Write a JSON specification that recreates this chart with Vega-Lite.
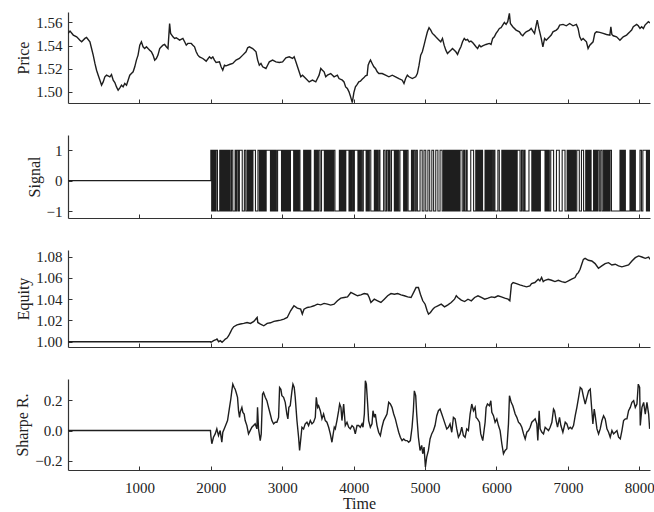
{
"$schema":"https://vega.github.io/schema/vega-lite/v6.json",
"background":"white",
"padding":{"left":14,"top":12,"right":4,"bottom":2},
"spacing":32,
"bounds":"flush",
"config":{"view":{"stroke":null},"font":"Liberation Serif",
"axis":{"labelFont":"Liberation Serif","titleFont":"Liberation Serif","labelFontSize":15,"titleFontSize":16,"titleFontWeight":"normal","labelColor":"#222","titleColor":"#222","domainColor":"#333","tickColor":"#333","grid":false,"tickSize":-4,"domainWidth":1.2}},
"datasets":{
"price":[{"t":0,"p":1.5505},{"t":28,"p":1.5525},{"t":74,"p":1.5491},{"t":121,"p":1.5476},{"t":167,"p":1.5447},{"t":191,"p":1.5433},{"t":237,"p":1.5462},{"t":260,"p":1.547},{"t":307,"p":1.5433},{"t":330,"p":1.5375},{"t":353,"p":1.5318},{"t":377,"p":1.5246},{"t":400,"p":1.5188},{"t":423,"p":1.5145},{"t":447,"p":1.5102},{"t":470,"p":1.5059},{"t":493,"p":1.5087},{"t":516,"p":1.5131},{"t":540,"p":1.5145},{"t":586,"p":1.5131},{"t":609,"p":1.5151},{"t":633,"p":1.5102},{"t":656,"p":1.5082},{"t":679,"p":1.5044},{"t":702,"p":1.5015},{"t":726,"p":1.5036},{"t":749,"p":1.5059},{"t":772,"p":1.5044},{"t":795,"p":1.5073},{"t":819,"p":1.5059},{"t":842,"p":1.5102},{"t":865,"p":1.5145},{"t":888,"p":1.5159},{"t":912,"p":1.5174},{"t":935,"p":1.5217},{"t":958,"p":1.5275},{"t":981,"p":1.5318},{"t":1005,"p":1.5404},{"t":1028,"p":1.5433},{"t":1051,"p":1.539},{"t":1074,"p":1.5375},{"t":1098,"p":1.539},{"t":1121,"p":1.5375},{"t":1144,"p":1.5361},{"t":1167,"p":1.5347},{"t":1191,"p":1.5318},{"t":1214,"p":1.5275},{"t":1237,"p":1.5289},{"t":1260,"p":1.5318},{"t":1284,"p":1.5375},{"t":1307,"p":1.539},{"t":1330,"p":1.5404},{"t":1353,"p":1.541},{"t":1377,"p":1.539},{"t":1400,"p":1.5375},{"t":1423,"p":1.5591},{"t":1437,"p":1.5505},{"t":1470,"p":1.5476},{"t":1493,"p":1.5462},{"t":1516,"p":1.5468},{"t":1563,"p":1.5447},{"t":1609,"p":1.5462},{"t":1633,"p":1.5433},{"t":1656,"p":1.5404},{"t":1679,"p":1.5419},{"t":1726,"p":1.5419},{"t":1749,"p":1.5404},{"t":1772,"p":1.539},{"t":1795,"p":1.5347},{"t":1819,"p":1.5318},{"t":1842,"p":1.5303},{"t":1888,"p":1.5289},{"t":1935,"p":1.5266},{"t":1981,"p":1.5303},{"t":2005,"p":1.5289},{"t":2028,"p":1.5303},{"t":2051,"p":1.5275},{"t":2074,"p":1.5254},{"t":2121,"p":1.526},{"t":2144,"p":1.5217},{"t":2167,"p":1.5188},{"t":2191,"p":1.5231},{"t":2214,"p":1.5226},{"t":2260,"p":1.5237},{"t":2307,"p":1.5246},{"t":2353,"p":1.5275},{"t":2400,"p":1.5289},{"t":2447,"p":1.5318},{"t":2493,"p":1.5347},{"t":2516,"p":1.5381},{"t":2540,"p":1.539},{"t":2586,"p":1.5375},{"t":2633,"p":1.5347},{"t":2656,"p":1.5275},{"t":2679,"p":1.5231},{"t":2702,"p":1.5246},{"t":2726,"p":1.5217},{"t":2772,"p":1.5203},{"t":2795,"p":1.5231},{"t":2819,"p":1.526},{"t":2865,"p":1.5275},{"t":2912,"p":1.526},{"t":2958,"p":1.5254},{"t":3005,"p":1.526},{"t":3051,"p":1.5295},{"t":3098,"p":1.5303},{"t":3144,"p":1.5289},{"t":3167,"p":1.5303},{"t":3191,"p":1.526},{"t":3214,"p":1.5217},{"t":3237,"p":1.5174},{"t":3260,"p":1.5131},{"t":3284,"p":1.5145},{"t":3330,"p":1.5116},{"t":3377,"p":1.5087},{"t":3423,"p":1.5102},{"t":3470,"p":1.5087},{"t":3493,"p":1.5116},{"t":3516,"p":1.5145},{"t":3540,"p":1.5203},{"t":3563,"p":1.5188},{"t":3586,"p":1.5174},{"t":3609,"p":1.5131},{"t":3633,"p":1.5145},{"t":3679,"p":1.5159},{"t":3726,"p":1.5131},{"t":3772,"p":1.5145},{"t":3795,"p":1.5116},{"t":3842,"p":1.5102},{"t":3865,"p":1.5087},{"t":3888,"p":1.5044},{"t":3912,"p":1.503},{"t":3935,"p":1.5001},{"t":3958,"p":1.4958},{"t":3981,"p":1.4908},{"t":4003,"p":1.4995},{"t":4025,"p":1.5044},{"t":4048,"p":1.5064},{"t":4072,"p":1.5087},{"t":4095,"p":1.5093},{"t":4119,"p":1.511},{"t":4142,"p":1.5122},{"t":4166,"p":1.5139},{"t":4189,"p":1.5145},{"t":4203,"p":1.5231},{"t":4222,"p":1.526},{"t":4236,"p":1.5275},{"t":4259,"p":1.5246},{"t":4283,"p":1.5217},{"t":4306,"p":1.5203},{"t":4330,"p":1.5174},{"t":4353,"p":1.5159},{"t":4400,"p":1.5159},{"t":4447,"p":1.5145},{"t":4494,"p":1.5131},{"t":4541,"p":1.5145},{"t":4587,"p":1.5131},{"t":4634,"p":1.5116},{"t":4681,"p":1.5102},{"t":4705,"p":1.5073},{"t":4728,"p":1.5116},{"t":4752,"p":1.5145},{"t":4775,"p":1.5131},{"t":4822,"p":1.5116},{"t":4869,"p":1.5131},{"t":4892,"p":1.5159},{"t":4916,"p":1.5231},{"t":4939,"p":1.5318},{"t":4962,"p":1.5347},{"t":4986,"p":1.5404},{"t":5009,"p":1.5462},{"t":5033,"p":1.5519},{"t":5056,"p":1.5554},{"t":5080,"p":1.5534},{"t":5103,"p":1.5505},{"t":5127,"p":1.5491},{"t":5150,"p":1.5476},{"t":5173,"p":1.5462},{"t":5197,"p":1.5447},{"t":5220,"p":1.5433},{"t":5244,"p":1.5462},{"t":5267,"p":1.5404},{"t":5291,"p":1.5361},{"t":5314,"p":1.5332},{"t":5338,"p":1.5347},{"t":5361,"p":1.5361},{"t":5384,"p":1.5375},{"t":5431,"p":1.5347},{"t":5455,"p":1.5324},{"t":5478,"p":1.5361},{"t":5502,"p":1.539},{"t":5525,"p":1.5433},{"t":5549,"p":1.5462},{"t":5572,"p":1.5447},{"t":5595,"p":1.5453},{"t":5619,"p":1.5433},{"t":5642,"p":1.5439},{"t":5666,"p":1.5427},{"t":5689,"p":1.541},{"t":5713,"p":1.539},{"t":5736,"p":1.5375},{"t":5759,"p":1.5404},{"t":5783,"p":1.539},{"t":5806,"p":1.5398},{"t":5853,"p":1.541},{"t":5900,"p":1.5419},{"t":5924,"p":1.541},{"t":5947,"p":1.5462},{"t":5970,"p":1.5476},{"t":5994,"p":1.5505},{"t":6017,"p":1.5525},{"t":6041,"p":1.5548},{"t":6064,"p":1.5554},{"t":6087,"p":1.5577},{"t":6111,"p":1.56},{"t":6135,"p":1.5583},{"t":6158,"p":1.5606},{"t":6181,"p":1.5678},{"t":6195,"p":1.5591},{"t":6228,"p":1.5563},{"t":6275,"p":1.5534},{"t":6322,"p":1.5519},{"t":6346,"p":1.5496},{"t":6369,"p":1.5485},{"t":6392,"p":1.5505},{"t":6416,"p":1.5519},{"t":6463,"p":1.5534},{"t":6486,"p":1.5548},{"t":6510,"p":1.5525},{"t":6533,"p":1.5505},{"t":6556,"p":1.5577},{"t":6571,"p":1.562},{"t":6594,"p":1.5548},{"t":6627,"p":1.5462},{"t":6650,"p":1.539},{"t":6674,"p":1.5462},{"t":6697,"p":1.5447},{"t":6744,"p":1.5476},{"t":6767,"p":1.5491},{"t":6791,"p":1.5519},{"t":6838,"p":1.5534},{"t":6861,"p":1.5548},{"t":6885,"p":1.5577},{"t":6932,"p":1.5583},{"t":6978,"p":1.5571},{"t":7025,"p":1.5591},{"t":7072,"p":1.5571},{"t":7119,"p":1.5583},{"t":7143,"p":1.5548},{"t":7166,"p":1.5476},{"t":7189,"p":1.5447},{"t":7213,"p":1.5462},{"t":7260,"p":1.5433},{"t":7283,"p":1.5375},{"t":7307,"p":1.5404},{"t":7353,"p":1.5433},{"t":7377,"p":1.5505},{"t":7400,"p":1.5519},{"t":7447,"p":1.5514},{"t":7494,"p":1.5505},{"t":7541,"p":1.5496},{"t":7588,"p":1.5491},{"t":7602,"p":1.5563},{"t":7616,"p":1.5496},{"t":7635,"p":1.5485},{"t":7682,"p":1.5476},{"t":7729,"p":1.5447},{"t":7752,"p":1.5462},{"t":7775,"p":1.5476},{"t":7822,"p":1.5491},{"t":7869,"p":1.5519},{"t":7893,"p":1.5534},{"t":7916,"p":1.5563},{"t":7963,"p":1.5583},{"t":7986,"p":1.5571},{"t":8010,"p":1.5548},{"t":8033,"p":1.5563},{"t":8057,"p":1.5548},{"t":8080,"p":1.5577},{"t":8127,"p":1.5606},{"t":8150,"p":1.5596}],
"signal":[{"t":0,"v":0},{"t":2000,"v":1},{"t":2012,"v":-1},{"t":2025,"v":1},{"t":2036,"v":-1},{"t":2050,"v":1},{"t":2061,"v":-1},{"t":2074,"v":1},{"t":2093,"v":-1},{"t":2125,"v":1},{"t":2138,"v":-1},{"t":2150,"v":1},{"t":2164,"v":-1},{"t":2177,"v":1},{"t":2190,"v":-1},{"t":2204,"v":1},{"t":2216,"v":-1},{"t":2231,"v":1},{"t":2245,"v":-1},{"t":2259,"v":1},{"t":2272,"v":-1},{"t":2290,"v":1},{"t":2308,"v":-1},{"t":2340,"v":1},{"t":2352,"v":-1},{"t":2366,"v":1},{"t":2385,"v":-1},{"t":2400,"v":1},{"t":2440,"v":-1},{"t":2470,"v":1},{"t":2490,"v":-1},{"t":2510,"v":1},{"t":2522,"v":-1},{"t":2535,"v":1},{"t":2548,"v":-1},{"t":2560,"v":1},{"t":2575,"v":-1},{"t":2590,"v":1},{"t":2625,"v":-1},{"t":2660,"v":1},{"t":2680,"v":-1},{"t":2695,"v":1},{"t":2708,"v":-1},{"t":2720,"v":1},{"t":2733,"v":-1},{"t":2746,"v":1},{"t":2760,"v":-1},{"t":2775,"v":1},{"t":2835,"v":-1},{"t":2850,"v":1},{"t":2863,"v":-1},{"t":2877,"v":1},{"t":2890,"v":-1},{"t":2905,"v":1},{"t":2918,"v":-1},{"t":2935,"v":1},{"t":2990,"v":-1},{"t":3005,"v":1},{"t":3018,"v":-1},{"t":3030,"v":1},{"t":3045,"v":-1},{"t":3058,"v":1},{"t":3072,"v":-1},{"t":3086,"v":1},{"t":3100,"v":-1},{"t":3115,"v":1},{"t":3160,"v":-1},{"t":3175,"v":1},{"t":3190,"v":-1},{"t":3204,"v":1},{"t":3218,"v":-1},{"t":3232,"v":1},{"t":3248,"v":-1},{"t":3300,"v":1},{"t":3315,"v":-1},{"t":3328,"v":1},{"t":3342,"v":-1},{"t":3356,"v":1},{"t":3370,"v":-1},{"t":3385,"v":1},{"t":3400,"v":-1},{"t":3450,"v":1},{"t":3465,"v":-1},{"t":3480,"v":1},{"t":3494,"v":-1},{"t":3510,"v":1},{"t":3530,"v":-1},{"t":3550,"v":1},{"t":3590,"v":-1},{"t":3605,"v":1},{"t":3620,"v":-1},{"t":3634,"v":1},{"t":3648,"v":-1},{"t":3662,"v":1},{"t":3676,"v":-1},{"t":3690,"v":1},{"t":3705,"v":-1},{"t":3720,"v":1},{"t":3738,"v":-1},{"t":3800,"v":1},{"t":3815,"v":-1},{"t":3830,"v":1},{"t":3845,"v":-1},{"t":3860,"v":1},{"t":3875,"v":-1},{"t":3890,"v":1},{"t":3935,"v":-1},{"t":3950,"v":1},{"t":3965,"v":-1},{"t":3980,"v":1},{"t":3996,"v":-1},{"t":4010,"v":1},{"t":4060,"v":-1},{"t":4075,"v":1},{"t":4088,"v":-1},{"t":4102,"v":1},{"t":4118,"v":-1},{"t":4135,"v":1},{"t":4175,"v":-1},{"t":4190,"v":1},{"t":4205,"v":-1},{"t":4220,"v":1},{"t":4240,"v":-1},{"t":4290,"v":1},{"t":4305,"v":-1},{"t":4320,"v":1},{"t":4335,"v":-1},{"t":4352,"v":1},{"t":4368,"v":-1},{"t":4420,"v":1},{"t":4440,"v":-1},{"t":4460,"v":1},{"t":4480,"v":-1},{"t":4495,"v":1},{"t":4510,"v":-1},{"t":4530,"v":1},{"t":4570,"v":-1},{"t":4585,"v":1},{"t":4600,"v":-1},{"t":4614,"v":1},{"t":4630,"v":-1},{"t":4648,"v":1},{"t":4700,"v":-1},{"t":4715,"v":1},{"t":4730,"v":-1},{"t":4745,"v":1},{"t":4762,"v":-1},{"t":4810,"v":1},{"t":4825,"v":-1},{"t":4840,"v":1},{"t":4858,"v":-1},{"t":4875,"v":1},{"t":4892,"v":-1},{"t":4930,"v":1},{"t":4960,"v":-1},{"t":4985,"v":1},{"t":5010,"v":-1},{"t":5040,"v":1},{"t":5065,"v":-1},{"t":5095,"v":1},{"t":5120,"v":-1},{"t":5150,"v":1},{"t":5180,"v":-1},{"t":5210,"v":1},{"t":5240,"v":-1},{"t":5258,"v":1},{"t":5270,"v":-1},{"t":5282,"v":1},{"t":5294,"v":-1},{"t":5306,"v":1},{"t":5318,"v":-1},{"t":5330,"v":1},{"t":5342,"v":-1},{"t":5355,"v":1},{"t":5368,"v":-1},{"t":5380,"v":1},{"t":5393,"v":-1},{"t":5405,"v":1},{"t":5418,"v":-1},{"t":5430,"v":1},{"t":5445,"v":-1},{"t":5460,"v":1},{"t":5475,"v":-1},{"t":5490,"v":1},{"t":5520,"v":-1},{"t":5540,"v":1},{"t":5555,"v":-1},{"t":5575,"v":1},{"t":5590,"v":-1},{"t":5640,"v":1},{"t":5680,"v":-1},{"t":5710,"v":1},{"t":5725,"v":-1},{"t":5738,"v":1},{"t":5750,"v":-1},{"t":5763,"v":1},{"t":5776,"v":-1},{"t":5790,"v":1},{"t":5805,"v":-1},{"t":5840,"v":1},{"t":5855,"v":-1},{"t":5870,"v":1},{"t":5885,"v":-1},{"t":5900,"v":1},{"t":5915,"v":-1},{"t":5930,"v":1},{"t":5946,"v":-1},{"t":5962,"v":1},{"t":5978,"v":-1},{"t":6020,"v":1},{"t":6040,"v":-1},{"t":6075,"v":1},{"t":6088,"v":-1},{"t":6100,"v":1},{"t":6113,"v":-1},{"t":6126,"v":1},{"t":6139,"v":-1},{"t":6152,"v":1},{"t":6165,"v":-1},{"t":6178,"v":1},{"t":6191,"v":-1},{"t":6204,"v":1},{"t":6217,"v":-1},{"t":6230,"v":1},{"t":6245,"v":-1},{"t":6260,"v":1},{"t":6275,"v":-1},{"t":6290,"v":1},{"t":6330,"v":-1},{"t":6350,"v":1},{"t":6368,"v":-1},{"t":6385,"v":1},{"t":6400,"v":-1},{"t":6455,"v":1},{"t":6495,"v":-1},{"t":6508,"v":1},{"t":6520,"v":-1},{"t":6533,"v":1},{"t":6546,"v":-1},{"t":6560,"v":1},{"t":6573,"v":-1},{"t":6586,"v":1},{"t":6600,"v":-1},{"t":6615,"v":1},{"t":6680,"v":-1},{"t":6695,"v":1},{"t":6710,"v":-1},{"t":6725,"v":1},{"t":6740,"v":-1},{"t":6760,"v":1},{"t":6800,"v":-1},{"t":6840,"v":1},{"t":6880,"v":-1},{"t":6920,"v":1},{"t":6960,"v":-1},{"t":6990,"v":1},{"t":7003,"v":-1},{"t":7016,"v":1},{"t":7029,"v":-1},{"t":7042,"v":1},{"t":7055,"v":-1},{"t":7068,"v":1},{"t":7081,"v":-1},{"t":7094,"v":1},{"t":7108,"v":-1},{"t":7125,"v":1},{"t":7160,"v":-1},{"t":7190,"v":1},{"t":7220,"v":-1},{"t":7250,"v":1},{"t":7265,"v":-1},{"t":7280,"v":1},{"t":7295,"v":-1},{"t":7310,"v":1},{"t":7325,"v":-1},{"t":7360,"v":1},{"t":7375,"v":-1},{"t":7390,"v":1},{"t":7405,"v":-1},{"t":7420,"v":1},{"t":7440,"v":-1},{"t":7460,"v":1},{"t":7480,"v":-1},{"t":7500,"v":1},{"t":7515,"v":-1},{"t":7530,"v":1},{"t":7545,"v":-1},{"t":7560,"v":1},{"t":7575,"v":-1},{"t":7590,"v":1},{"t":7610,"v":-1},{"t":7730,"v":1},{"t":7745,"v":-1},{"t":7760,"v":1},{"t":7775,"v":-1},{"t":7790,"v":1},{"t":7805,"v":-1},{"t":7870,"v":1},{"t":7885,"v":-1},{"t":7900,"v":1},{"t":7915,"v":-1},{"t":7930,"v":1},{"t":7945,"v":-1},{"t":8010,"v":1},{"t":8030,"v":-1},{"t":8050,"v":1},{"t":8100,"v":-1},{"t":8112,"v":1},{"t":8124,"v":-1},{"t":8136,"v":1},{"t":8148,"v":-1},{"t":8150,"v":-1}],
"equity":[{"t":0,"e":1.0},{"t":1995,"e":1.0},{"t":2002,"e":0.9994},{"t":2039,"e":1.0009},{"t":2063,"e":1.0016},{"t":2086,"e":1.0025},{"t":2110,"e":1.0},{"t":2133,"e":1.0009},{"t":2157,"e":0.9994},{"t":2180,"e":1.0009},{"t":2203,"e":1.0025},{"t":2227,"e":1.0034},{"t":2250,"e":1.0056},{"t":2274,"e":1.0088},{"t":2297,"e":1.0119},{"t":2321,"e":1.0141},{"t":2367,"e":1.0159},{"t":2414,"e":1.0166},{"t":2461,"e":1.0172},{"t":2508,"e":1.0181},{"t":2555,"e":1.0172},{"t":2602,"e":1.0191},{"t":2649,"e":1.0228},{"t":2658,"e":1.0181},{"t":2695,"e":1.0166},{"t":2742,"e":1.015},{"t":2789,"e":1.0172},{"t":2836,"e":1.0178},{"t":2883,"e":1.0191},{"t":2930,"e":1.0197},{"t":2977,"e":1.0203},{"t":3023,"e":1.0213},{"t":3070,"e":1.0228},{"t":3117,"e":1.0291},{"t":3164,"e":1.0338},{"t":3211,"e":1.0316},{"t":3258,"e":1.0306},{"t":3281,"e":1.026},{"t":3305,"e":1.0306},{"t":3351,"e":1.0322},{"t":3398,"e":1.0328},{"t":3445,"e":1.0338},{"t":3492,"e":1.0353},{"t":3539,"e":1.0347},{"t":3586,"e":1.036},{"t":3633,"e":1.0353},{"t":3679,"e":1.0344},{"t":3726,"e":1.0353},{"t":3773,"e":1.0385},{"t":3820,"e":1.041},{"t":3867,"e":1.0416},{"t":3914,"e":1.0422},{"t":3961,"e":1.0463},{"t":4008,"e":1.0447},{"t":4054,"e":1.0432},{"t":4101,"e":1.0441},{"t":4148,"e":1.0453},{"t":4195,"e":1.0447},{"t":4218,"e":1.0416},{"t":4242,"e":1.0369},{"t":4289,"e":1.04},{"t":4336,"e":1.0385},{"t":4382,"e":1.0369},{"t":4429,"e":1.04},{"t":4476,"e":1.0432},{"t":4523,"e":1.0453},{"t":4570,"e":1.0447},{"t":4617,"e":1.0453},{"t":4664,"e":1.0441},{"t":4710,"e":1.0432},{"t":4757,"e":1.0422},{"t":4804,"e":1.0416},{"t":4851,"e":1.0478},{"t":4874,"e":1.051},{"t":4907,"e":1.051},{"t":4935,"e":1.0447},{"t":4968,"e":1.0385},{"t":5001,"e":1.0353},{"t":5029,"e":1.0291},{"t":5048,"e":1.026},{"t":5076,"e":1.0275},{"t":5109,"e":1.0306},{"t":5132,"e":1.0322},{"t":5179,"e":1.0338},{"t":5226,"e":1.0353},{"t":5273,"e":1.0328},{"t":5320,"e":1.0347},{"t":5366,"e":1.0369},{"t":5413,"e":1.04},{"t":5437,"e":1.0432},{"t":5460,"e":1.0416},{"t":5507,"e":1.0391},{"t":5554,"e":1.0378},{"t":5601,"e":1.04},{"t":5648,"e":1.0385},{"t":5694,"e":1.0416},{"t":5741,"e":1.0432},{"t":5788,"e":1.0416},{"t":5835,"e":1.04},{"t":5882,"e":1.041},{"t":5929,"e":1.0422},{"t":5976,"e":1.0416},{"t":6022,"e":1.0432},{"t":6069,"e":1.0422},{"t":6116,"e":1.041},{"t":6163,"e":1.04},{"t":6187,"e":1.0385},{"t":6210,"e":1.0541},{"t":6233,"e":1.0557},{"t":6280,"e":1.0547},{"t":6327,"e":1.0535},{"t":6374,"e":1.0525},{"t":6421,"e":1.0516},{"t":6468,"e":1.0525},{"t":6491,"e":1.0547},{"t":6538,"e":1.0557},{"t":6585,"e":1.0588},{"t":6608,"e":1.0572},{"t":6632,"e":1.0604},{"t":6655,"e":1.0566},{"t":6679,"e":1.0578},{"t":6725,"e":1.0588},{"t":6772,"e":1.0578},{"t":6819,"e":1.0566},{"t":6866,"e":1.0578},{"t":6913,"e":1.0566},{"t":6960,"e":1.0557},{"t":7007,"e":1.0572},{"t":7053,"e":1.0588},{"t":7100,"e":1.0604},{"t":7124,"e":1.0635},{"t":7147,"e":1.065},{"t":7171,"e":1.0682},{"t":7194,"e":1.0729},{"t":7217,"e":1.0775},{"t":7241,"e":1.0785},{"t":7288,"e":1.0766},{"t":7335,"e":1.076},{"t":7381,"e":1.0735},{"t":7428,"e":1.0691},{"t":7475,"e":1.0713},{"t":7522,"e":1.0735},{"t":7569,"e":1.0744},{"t":7616,"e":1.0722},{"t":7663,"e":1.0729},{"t":7709,"e":1.0713},{"t":7756,"e":1.0704},{"t":7803,"e":1.0713},{"t":7850,"e":1.0722},{"t":7897,"e":1.076},{"t":7944,"e":1.0791},{"t":7991,"e":1.0807},{"t":8037,"e":1.0797},{"t":8084,"e":1.0785},{"t":8131,"e":1.0797},{"t":8150,"e":1.0775}],
"sharpe":[{"t":0,"s":0},{"t":1995,"s":0},{"t":2000,"s":-0.033},{"t":2014,"s":-0.087},{"t":2037,"s":-0.044},{"t":2061,"s":-0.022},{"t":2084,"s":0.011},{"t":2107,"s":-0.033},{"t":2131,"s":0.0},{"t":2154,"s":-0.077},{"t":2168,"s":-0.011},{"t":2187,"s":0.011},{"t":2215,"s":0.044},{"t":2234,"s":0.066},{"t":2262,"s":0.153},{"t":2280,"s":0.208},{"t":2294,"s":0.262},{"t":2308,"s":0.306},{"t":2327,"s":0.284},{"t":2341,"s":0.273},{"t":2355,"s":0.251},{"t":2374,"s":0.219},{"t":2388,"s":0.131},{"t":2402,"s":0.087},{"t":2411,"s":0.12},{"t":2435,"s":0.153},{"t":2449,"s":0.12},{"t":2467,"s":0.109},{"t":2481,"s":0.066},{"t":2505,"s":0.033},{"t":2528,"s":-0.022},{"t":2551,"s":0.0},{"t":2575,"s":0.022},{"t":2598,"s":0.033},{"t":2621,"s":0.044},{"t":2645,"s":0.011},{"t":2654,"s":0.153},{"t":2668,"s":0.011},{"t":2692,"s":-0.066},{"t":2706,"s":-0.022},{"t":2724,"s":0.24},{"t":2738,"s":0.251},{"t":2762,"s":0.219},{"t":2785,"s":0.197},{"t":2808,"s":0.153},{"t":2832,"s":0.109},{"t":2855,"s":0.066},{"t":2879,"s":0.044},{"t":2902,"s":0.055},{"t":2925,"s":0.055},{"t":2949,"s":0.087},{"t":2963,"s":0.284},{"t":2981,"s":0.273},{"t":2995,"s":0.23},{"t":3019,"s":0.219},{"t":3042,"s":0.186},{"t":3065,"s":0.109},{"t":3079,"s":0.077},{"t":3093,"s":0.153},{"t":3112,"s":0.164},{"t":3136,"s":0.262},{"t":3150,"s":0.306},{"t":3168,"s":0.284},{"t":3182,"s":0.219},{"t":3206,"s":0.066},{"t":3229,"s":-0.044},{"t":3243,"s":-0.131},{"t":3262,"s":-0.044},{"t":3276,"s":0.022},{"t":3299,"s":0.011},{"t":3322,"s":0.044},{"t":3346,"s":0.055},{"t":3369,"s":0.033},{"t":3393,"s":0.066},{"t":3416,"s":0.044},{"t":3439,"s":0.055},{"t":3463,"s":0.087},{"t":3477,"s":0.219},{"t":3495,"s":0.153},{"t":3509,"s":0.164},{"t":3533,"s":0.131},{"t":3556,"s":0.077},{"t":3579,"s":0.109},{"t":3603,"s":0.066},{"t":3626,"s":0.055},{"t":3650,"s":0.022},{"t":3673,"s":-0.022},{"t":3696,"s":-0.077},{"t":3710,"s":-0.033},{"t":3729,"s":0.022},{"t":3743,"s":0.011},{"t":3766,"s":0.066},{"t":3790,"s":0.131},{"t":3804,"s":0.175},{"t":3822,"s":0.153},{"t":3836,"s":0.066},{"t":3860,"s":0.175},{"t":3883,"s":0.033},{"t":3907,"s":0.055},{"t":3930,"s":0.022},{"t":3953,"s":0.011},{"t":3977,"s":0.033},{"t":4000,"s":0.022},{"t":4023,"s":-0.022},{"t":4047,"s":0.033},{"t":4070,"s":0.033},{"t":4093,"s":0.022},{"t":4117,"s":0.044},{"t":4131,"s":0.022},{"t":4150,"s":0.109},{"t":4164,"s":0.328},{"t":4178,"s":0.306},{"t":4196,"s":0.175},{"t":4210,"s":0.066},{"t":4234,"s":0.022},{"t":4257,"s":0.044},{"t":4271,"s":0.131},{"t":4290,"s":0.087},{"t":4304,"s":0.109},{"t":4327,"s":0.033},{"t":4350,"s":-0.011},{"t":4374,"s":-0.033},{"t":4397,"s":0.022},{"t":4421,"s":0.066},{"t":4444,"s":0.087},{"t":4467,"s":0.109},{"t":4491,"s":0.186},{"t":4514,"s":0.175},{"t":4537,"s":0.153},{"t":4561,"s":0.109},{"t":4584,"s":0.077},{"t":4607,"s":0.033},{"t":4631,"s":-0.011},{"t":4654,"s":-0.044},{"t":4678,"s":-0.066},{"t":4701,"s":-0.055},{"t":4724,"s":-0.066},{"t":4748,"s":-0.066},{"t":4771,"s":-0.077},{"t":4794,"s":-0.066},{"t":4818,"s":0.022},{"t":4836,"s":0.131},{"t":4850,"s":0.262},{"t":4869,"s":0.23},{"t":4883,"s":0.109},{"t":4907,"s":-0.044},{"t":4930,"s":-0.131},{"t":4953,"s":-0.098},{"t":4967,"s":-0.153},{"t":4986,"s":-0.109},{"t":5005,"s":-0.24},{"t":5023,"s":-0.175},{"t":5047,"s":-0.131},{"t":5070,"s":-0.055},{"t":5093,"s":-0.022},{"t":5117,"s":0.0},{"t":5140,"s":0.033},{"t":5164,"s":0.098},{"t":5187,"s":0.131},{"t":5210,"s":0.142},{"t":5234,"s":0.109},{"t":5257,"s":0.077},{"t":5280,"s":0.044},{"t":5304,"s":0.011},{"t":5327,"s":0.022},{"t":5350,"s":0.044},{"t":5374,"s":-0.011},{"t":5397,"s":0.087},{"t":5421,"s":0.077},{"t":5444,"s":0.011},{"t":5467,"s":-0.044},{"t":5491,"s":-0.022},{"t":5514,"s":0.022},{"t":5537,"s":-0.033},{"t":5561,"s":-0.044},{"t":5584,"s":0.011},{"t":5607,"s":0.0},{"t":5631,"s":0.109},{"t":5654,"s":0.175},{"t":5678,"s":0.131},{"t":5701,"s":0.153},{"t":5715,"s":0.087},{"t":5734,"s":0.077},{"t":5762,"s":0.055},{"t":5780,"s":-0.022},{"t":5808,"s":-0.066},{"t":5841,"s":0.055},{"t":5855,"s":0.153},{"t":5874,"s":0.175},{"t":5902,"s":0.164},{"t":5921,"s":0.197},{"t":5935,"s":0.12},{"t":5958,"s":0.098},{"t":5981,"s":0.055},{"t":6005,"s":0.077},{"t":6028,"s":0.033},{"t":6051,"s":0.0},{"t":6075,"s":-0.087},{"t":6098,"s":-0.153},{"t":6121,"s":-0.131},{"t":6145,"s":-0.12},{"t":6168,"s":0.044},{"t":6182,"s":0.23},{"t":6206,"s":0.186},{"t":6229,"s":0.164},{"t":6262,"s":0.109},{"t":6285,"s":0.087},{"t":6308,"s":0.055},{"t":6332,"s":0.044},{"t":6355,"s":0.022},{"t":6379,"s":-0.022},{"t":6402,"s":-0.055},{"t":6425,"s":-0.011},{"t":6449,"s":0.0},{"t":6472,"s":0.022},{"t":6495,"s":0.055},{"t":6519,"s":0.066},{"t":6542,"s":0.077},{"t":6565,"s":0.044},{"t":6579,"s":-0.066},{"t":6598,"s":0.131},{"t":6612,"s":0.011},{"t":6636,"s":-0.011},{"t":6659,"s":-0.022},{"t":6682,"s":0.022},{"t":6706,"s":0.011},{"t":6729,"s":0.0},{"t":6752,"s":0.022},{"t":6776,"s":0.055},{"t":6799,"s":0.142},{"t":6813,"s":0.131},{"t":6836,"s":0.066},{"t":6855,"s":0.022},{"t":6883,"s":0.087},{"t":6902,"s":0.033},{"t":6930,"s":-0.011},{"t":6963,"s":0.055},{"t":6986,"s":0.044},{"t":7009,"s":0.011},{"t":7033,"s":0.022},{"t":7056,"s":0.011},{"t":7079,"s":0.033},{"t":7103,"s":0.098},{"t":7126,"s":0.153},{"t":7150,"s":0.219},{"t":7173,"s":0.284},{"t":7196,"s":0.273},{"t":7220,"s":0.219},{"t":7243,"s":0.175},{"t":7266,"s":0.219},{"t":7290,"s":0.262},{"t":7313,"s":0.273},{"t":7336,"s":0.131},{"t":7350,"s":0.044},{"t":7369,"s":0.142},{"t":7383,"s":0.098},{"t":7407,"s":0.011},{"t":7430,"s":-0.022},{"t":7453,"s":0.011},{"t":7477,"s":0.066},{"t":7500,"s":0.098},{"t":7523,"s":0.077},{"t":7547,"s":0.011},{"t":7570,"s":-0.011},{"t":7593,"s":-0.044},{"t":7617,"s":0.0},{"t":7640,"s":-0.022},{"t":7664,"s":-0.011},{"t":7687,"s":0.0},{"t":7710,"s":-0.044},{"t":7734,"s":-0.055},{"t":7757,"s":0.0},{"t":7780,"s":0.066},{"t":7804,"s":0.077},{"t":7827,"s":0.077},{"t":7850,"s":0.131},{"t":7874,"s":0.153},{"t":7897,"s":0.186},{"t":7921,"s":0.197},{"t":7944,"s":0.153},{"t":7967,"s":0.175},{"t":7986,"s":0.306},{"t":8005,"s":0.284},{"t":8014,"s":0.033},{"t":8037,"s":0.153},{"t":8061,"s":0.186},{"t":8084,"s":0.109},{"t":8107,"s":0.186},{"t":8131,"s":0.109},{"t":8145,"s":0.011}]
},
"vconcat":[
{"width":582,"height":91,"data":{"name":"price"},
 "mark":{"type":"line","color":"#1e1e1e","strokeWidth":1.4,"clip":true},
 "encoding":{
  "x":{"field":"t","type":"quantitative","scale":{"domain":[0,8150],"nice":false,"zero":false},"axis":{"values":[1000,2000,3000,4000,5000,6000,7000,8000],"labels":false,"title":null}},
  "y":{"field":"p","type":"quantitative","scale":{"domain":[1.4905,1.569],"nice":false,"zero":false},"axis":{"values":[1.5,1.52,1.54,1.56],"format":".2f","title":"Price","labelPadding":10,"titlePadding":4}}}},
{"width":582,"height":83,"data":{"name":"signal"},
 "mark":{"type":"line","color":"#1e1e1e","strokeWidth":1.1,"interpolate":"step-after","clip":true},
 "encoding":{
  "x":{"field":"t","type":"quantitative","scale":{"domain":[0,8150],"nice":false,"zero":false},"axis":{"values":[1000,2000,3000,4000,5000,6000,7000,8000],"labels":false,"title":null}},
  "y":{"field":"v","type":"quantitative","scale":{"domain":[-1.23,1.5],"nice":false,"zero":false},"axis":{"values":[-1,0,1],"format":"d","title":"Signal","labelPadding":10,"titlePadding":4}}}},
{"width":582,"height":97,"data":{"name":"equity"},
 "mark":{"type":"line","color":"#1e1e1e","strokeWidth":1.4,"clip":true},
 "encoding":{
  "x":{"field":"t","type":"quantitative","scale":{"domain":[0,8150],"nice":false,"zero":false},"axis":{"values":[1000,2000,3000,4000,5000,6000,7000,8000],"labels":false,"title":null}},
  "y":{"field":"e","type":"quantitative","scale":{"domain":[0.995,1.0863],"nice":false,"zero":false},"axis":{"values":[1.0,1.02,1.04,1.06,1.08],"format":".2f","title":"Equity","labelPadding":10,"titlePadding":4}}}},
{"width":582,"height":91,"data":{"name":"sharpe"},
 "mark":{"type":"line","color":"#1e1e1e","strokeWidth":1.4,"clip":true},
 "encoding":{
  "x":{"field":"t","type":"quantitative","scale":{"domain":[0,8150],"nice":false,"zero":false},"axis":{"values":[1000,2000,3000,4000,5000,6000,7000,8000],"format":"d","title":"Time","labelPadding":14,"titlePadding":0}},
  "y":{"field":"s","type":"quantitative","scale":{"domain":[-0.26,0.34],"nice":false,"zero":false},"axis":{"values":[-0.2,0,0.2],"format":".1f","title":"Sharpe R.","labelPadding":10,"titlePadding":4}}}}
]
}
